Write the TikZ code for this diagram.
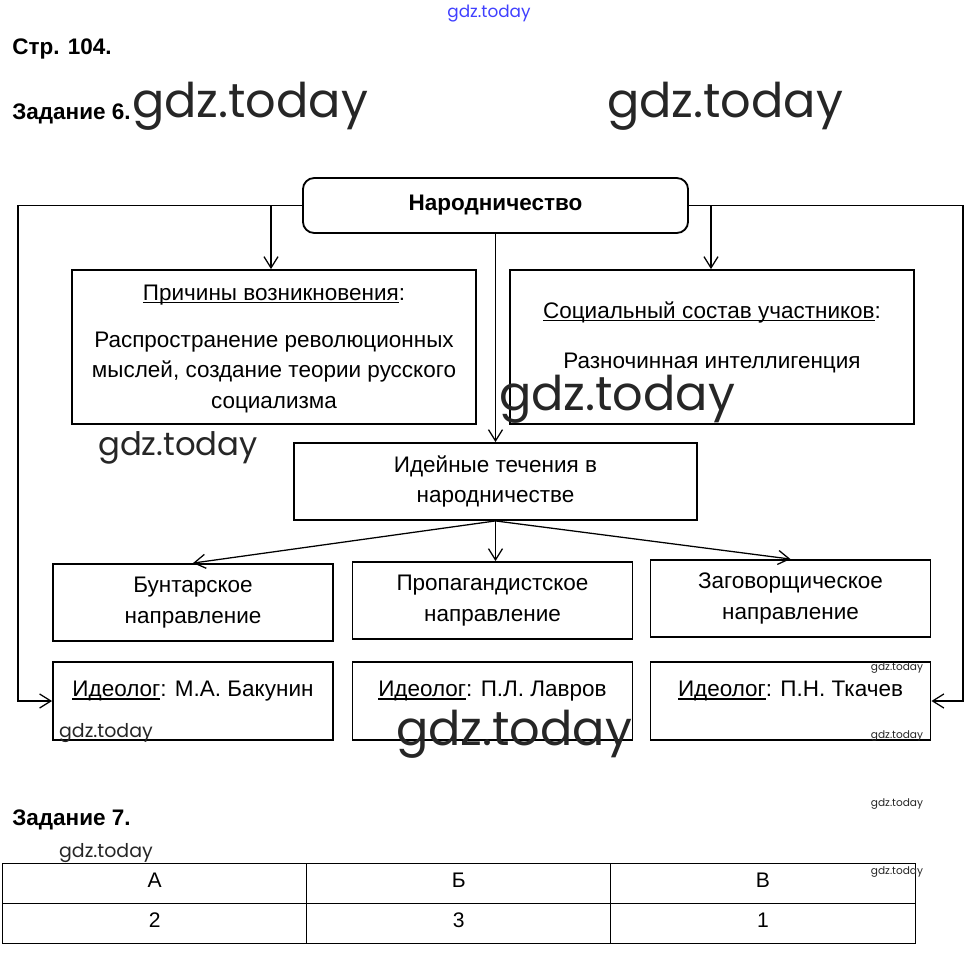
\documentclass[tikz,border=0pt]{standalone}
\usepackage{fontspec}
\setmainfont{Liberation Sans}
\newfontfamily\wmfont{Poppins}
\usetikzlibrary{arrows.meta,matrix}
\newcommand\uln[1]{\setbox0\hbox{#1}\rlap{\rule[-2.2pt]{\wd0}{0.8pt}}\box0}

\begin{document}
\begin{tikzpicture}[x=0.025cm, y=-0.025cm,
    font=\fontsize{16}{22}\selectfont,
    box/.style={draw, line width=1.3pt, align=center, inner sep=0pt},
    txt/.style={align=center, inner sep=0pt},
    link/.style={line width=0.9pt, -{Straight Barb[length=8pt,width=10pt]}},
    head/.style={font=\fontsize{16}{22}\selectfont\bfseries, anchor=west, inner sep=0pt},
    wm/.style={inner sep=0pt, text=black!85}]
  \useasboundingbox (0,0) rectangle (976,953);

  % headings
  \node[head] (str) at (12,49) {Стр. 104.};
  \node[head] (zad6) at (12,114) {Задание 6.};
  \node[head] (zad7) at (12,820) {Задание 7.};

  % top of the scheme
  \node[box, rounded corners=8pt, minimum width=9.625cm, minimum height=1.375cm,
        font=\fontsize{16}{22}\selectfont\bfseries] (narod) at (495.5,205.5) {Народничество};

  \node[box, minimum width=10.1cm, minimum height=3.85cm] (prich) at (274,347) {};
  \node[txt] (pricht) at (274,349)
    {\uln{Причины возникновения}:\\[0.4cm]
     Распространение революционных\\ мыслей, создание теории русского\\ социализма};
  \node[box, minimum width=10.1cm, minimum height=3.85cm] (sost) at (712,347) {};
  \node[txt] (sostt) at (712,337)
    {\uln{Социальный состав участников}:\\[0.48cm] Разночинная интеллигенция};

  \node[box, minimum width=10.075cm, minimum height=1.925cm] (idei) at (495.5,481.5)
    {Идейные течения в\\ народничестве};

  % directions
  \node[box, minimum width=7cm, minimum height=1.925cm] (bunt) at (193,602.5) {Бунтарское\\ направление};
  \node[box, minimum width=7cm, minimum height=1.925cm] (prop) at (492.5,600.5) {Пропагандистское\\ направление};
  \node[box, minimum width=7cm, minimum height=1.925cm] (zag) at (790.5,598.5) {Заговорщическое\\ направление};

  % ideologists
  \node[box, minimum width=7cm, minimum height=1.95cm] (ibak) at (193,701) {};
  \node[box, minimum width=7cm, minimum height=1.95cm] (ilav) at (492.5,701) {};
  \node[box, minimum width=7cm, minimum height=1.95cm] (itk) at (790.5,701) {};
  \node[txt] (ibakt) at (193,691) {\uln{Идеолог}: М.А. Бакунин};
  \node[txt] (ilavt) at (492.5,691) {\uln{Идеолог}: П.Л. Лавров};
  \node[txt] (itkt) at (790.5,691) {\uln{Идеолог}: П.Н. Ткачев};

  % connectors
  \coordinate (lcorner) at (18,205.5);
  \coordinate (rcorner) at (963,205.5);
  \coordinate (lfork) at (271,205.5);
  \coordinate (rfork) at (711,205.5);
  \draw[link] (narod.west) -- (lcorner) |- (ibak.west);
  \draw[link] (narod.east) -- (rcorner) |- (itk.east);
  \draw[link] (lfork) -- (lfork |- prich.north);
  \draw[link] (rfork) -- (rfork |- sost.north);
  \draw[link] (narod.south) -- (idei.north);
  \draw[link] (idei.south) -- (bunt.north);
  \draw[link] (idei.south) -- (idei.south |- prop.north);
  \draw[link] (idei.south) -- (zag.north);

  % task 7
  \matrix (tab) [matrix of nodes, ampersand replacement=\&, anchor=north west, inner sep=0pt,
                 nodes={draw, line width=0.6pt, minimum width=7.6cm, minimum height=1cm,
                        inner sep=0pt, text height=0.38cm, text depth=0.2cm,
                        font=\fontsize{15}{15}\selectfont},
                 column sep=-0.6pt, row sep=-0.6pt] at (2,863) {
    А \& Б \& В \\
    2 \& 3 \& 1 \\
  };

  % watermarks
  \node[wm, text=blue!75!white, font=\wmfont\fontsize{12}{12}\selectfont] (wm0) at (489,14) {gdz.today};
  \node[wm, font=\wmfont\fontsize{34}{34}\selectfont] (wm1) at (250,106) {gdz.today};
  \node[wm, font=\wmfont\fontsize{34}{34}\selectfont] (wm2) at (725,106) {gdz.today};
  \node[wm, font=\wmfont\fontsize{34}{34}\selectfont] (wm3) at (617,399) {gdz.today};
  \node[wm, font=\wmfont\fontsize{23}{23}\selectfont] (wm4) at (178,448) {gdz.today};
  \node[wm, font=\wmfont\fontsize{34}{34}\selectfont] (wm5) at (514,734) {gdz.today};
  \node[wm, font=\wmfont\fontsize{13.5}{13.5}\selectfont] (wm6) at (106,733) {gdz.today};
  \node[wm, font=\wmfont\fontsize{13.5}{13.5}\selectfont] (wm7) at (106,853) {gdz.today};
  \node[wm, font=\wmfont\fontsize{7.5}{7.5}\selectfont] (wm8) at (897,668) {gdz.today};
  \node[wm, font=\wmfont\fontsize{7.5}{7.5}\selectfont] (wm9) at (897,736) {gdz.today};
  \node[wm, font=\wmfont\fontsize{7.5}{7.5}\selectfont] (wm10) at (897,804) {gdz.today};
  \node[wm, font=\wmfont\fontsize{7.5}{7.5}\selectfont] (wm11) at (897,872) {gdz.today};
\end{tikzpicture}
\end{document}
